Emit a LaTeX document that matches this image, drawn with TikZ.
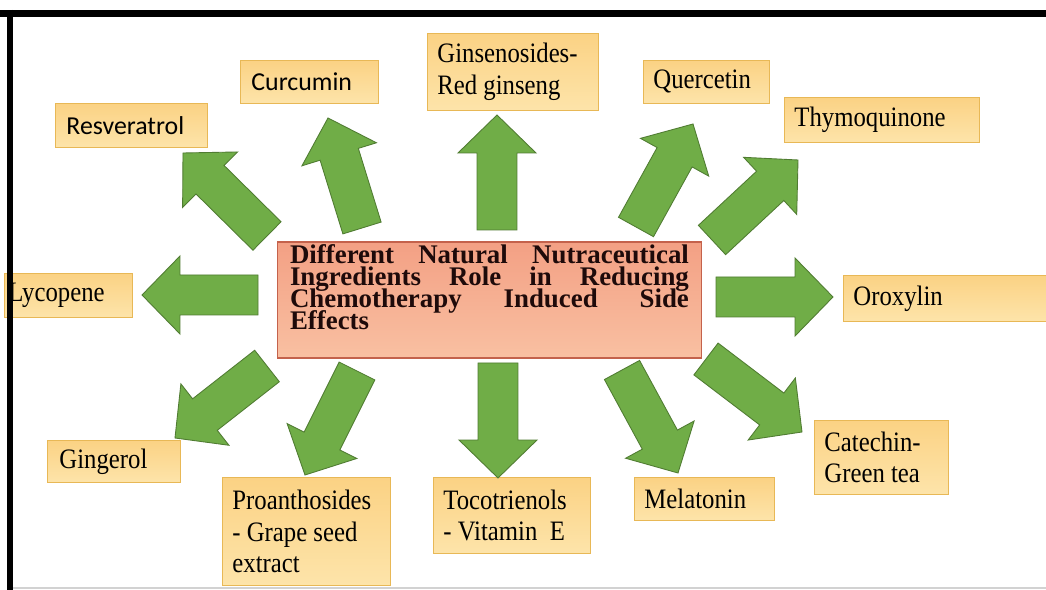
\documentclass[tikz,border=0pt]{standalone}
\usepackage{fontspec}
\setmainfont{Liberation Serif}
\newfontfamily\labelserif{Liberation Serif}[FakeStretch=0.88]
\newfontfamily\labelsans{Carlito}
\usetikzlibrary{calc, positioning}

\definecolor{arrowgreen}{RGB}{112,173,71}
\definecolor{arrowedge}{RGB}{80,124,50}
\definecolor{boxtop}{RGB}{251,210,132}
\definecolor{boxbot}{RGB}{253,228,170}
\definecolor{boxedge}{RGB}{232,184,86}
\definecolor{maintop}{RGB}{243,160,132}
\definecolor{mainbot}{RGB}{249,192,162}
\definecolor{mainedge}{RGB}{196,98,76}
\definecolor{maintext}{RGB}{30,10,10}

\tikzset{
  fatarrow/.style={fill=arrowgreen, draw=arrowedge, line width=0.5pt, line join=miter},
  ingr/.style={draw=boxedge, line width=0.5pt, top color=boxtop, bottom color=boxbot, anchor=north west, inner xsep=0.2cm, inner ysep=0pt, align=flush left, font=\labelserif\fontsize{16}{18}\selectfont},
  ingrsans/.style={ingr, font=\labelsans\fontsize{14.7}{18}\selectfont},
  mainbox/.style={draw=mainedge, line width=0.6pt, top color=maintop, bottom color=mainbot, inner xsep=0.26cm, inner ysep=0pt, text=maintext, font=\fontsize{15.3}{12.6}\selectfont\bfseries}
}

% block arrow from tail coordinate to tip coordinate
\newcommand{\fatarrow}[2]{%
  \coordinate (hb) at ($(#2)!0.76cm!(#1)$);
  \filldraw[fatarrow] ($(#1)!0.4cm!90:(#2)$) -- ($(hb)!0.4cm!-90:(#1)$)
    -- ($(hb)!0.78cm!-90:(#1)$) -- (#2) -- ($(hb)!0.78cm!90:(#1)$)
    -- ($(hb)!0.4cm!90:(#1)$) -- ($(#1)!0.4cm!-90:(#2)$) -- cycle;
}

\begin{document}
\begin{tikzpicture}[x=0.02cm, y=-0.02cm]
  \useasboundingbox (0,0) rectangle (1046,590);
  \fill[white] (0,0) rectangle (1046,590);

  % Central box
  \node[mainbox] (main) at (489.5,300) {\parbox[c][2.32cm][t]{7.98cm}{\lineskiplimit=-8pt\lineskip=0pt\vspace*{0.05cm}%
    Different Natural Nutraceutical\linebreak
    Ingredients Role in Reducing\linebreak
    Chemotherapy Induced Side\linebreak
    Effects}};

  % Ingredient boxes
  \node[ingrsans, text width=2.6cm, minimum height=0.88cm, inner xsep=0.22cm] (res) at (55,103) {Resveratrol};
  \node[ingrsans, text width=2.32cm, minimum height=0.86cm, inner xsep=0.22cm] (cur) at (240,60) {Curcumin};
  \node[ingr, text width=3.02cm, minimum height=1.54cm] (gin) at (427,33) {Ginsenosides-\\Red ginseng};
  \node[ingr, text width=2.12cm, minimum height=0.86cm] (que) at (643,60) {Quercetin};
  \node[ingr, text width=3.5cm, minimum height=0.9cm] (thy) at (784,97) {Thymoquinone};
  \node[ingr, text width=3.8cm, minimum height=0.92cm] (oro) at (843,275) {Oroxylin};
  \node[ingr, text width=2.28cm, minimum height=1.48cm] (cat) at (814,420) {Catechin-\\Green tea};
  \node[ingr, text width=2.4cm, minimum height=0.86cm] (mel) at (634,477) {Melatonin};
  \node[ingr, text width=2.74cm, minimum height=1.52cm] (toc) at (433,477) {Tocotrienols\\- Vitamin~ E};
  \node[ingr, text width=2.96cm, minimum height=2.16cm] (pro) at (222,477) {Proanthosides\\- Grape seed\\extract};
  \node[ingr, text width=2.18cm, minimum height=0.84cm, inner xsep=0.24cm] (gng) at (47,440) {Gingerol};
  \node[ingr, text width=2.4cm, minimum height=0.88cm, inner xsep=0.08cm] (lyc) at (4,273) {Lycopene};

  % Arrow ends
  \coordinate (res-tail) at (267,236); \coordinate (res-tip) at (183,153);
  \coordinate (cur-tail) at (362,228); \coordinate (cur-tip) at (328,118);
  \coordinate (gin-tail) at (497,230); \coordinate (gin-tip) at (497,115);
  \coordinate (que-tail) at (636,227); \coordinate (que-tip) at (693,124);
  \coordinate (thy-tail) at (712,240); \coordinate (thy-tip) at (798,160);
  \coordinate (oro-tail) at (716,297); \coordinate (oro-tip) at (833,297);
  \coordinate (cat-tail) at (706,359); \coordinate (cat-tip) at (802,432);
  \coordinate (mel-tail) at (622,370); \coordinate (mel-tip) at (678,473);
  \coordinate (toc-tail) at (498,363); \coordinate (toc-tip) at (498,478);
  \coordinate (pro-tail) at (357,371); \coordinate (pro-tip) at (305,475);
  \coordinate (gng-tail) at (267,366); \coordinate (gng-tip) at (175,438);
  \coordinate (lyc-tail) at (258,295); \coordinate (lyc-tip) at (142,295);

  % Arrows
  \fatarrow{res-tail}{res-tip}
  \fatarrow{cur-tail}{cur-tip}
  \fatarrow{gin-tail}{gin-tip}
  \fatarrow{que-tail}{que-tip}
  \fatarrow{thy-tail}{thy-tip}
  \fatarrow{oro-tail}{oro-tip}
  \fatarrow{cat-tail}{cat-tip}
  \fatarrow{mel-tail}{mel-tip}
  \fatarrow{toc-tail}{toc-tip}
  \fatarrow{pro-tail}{pro-tip}
  \fatarrow{gng-tail}{gng-tip}
  \fatarrow{lyc-tail}{lyc-tip}

  % Frame
  \draw[line width=0.14cm] (0,13.5) -- (1046,13.5);
  \draw[line width=0.12cm] (10,10) -- (10,590);
  \draw[gray!35, line width=0.04cm] (13,588.5) -- (1046,588.5);
\end{tikzpicture}
\end{document}
